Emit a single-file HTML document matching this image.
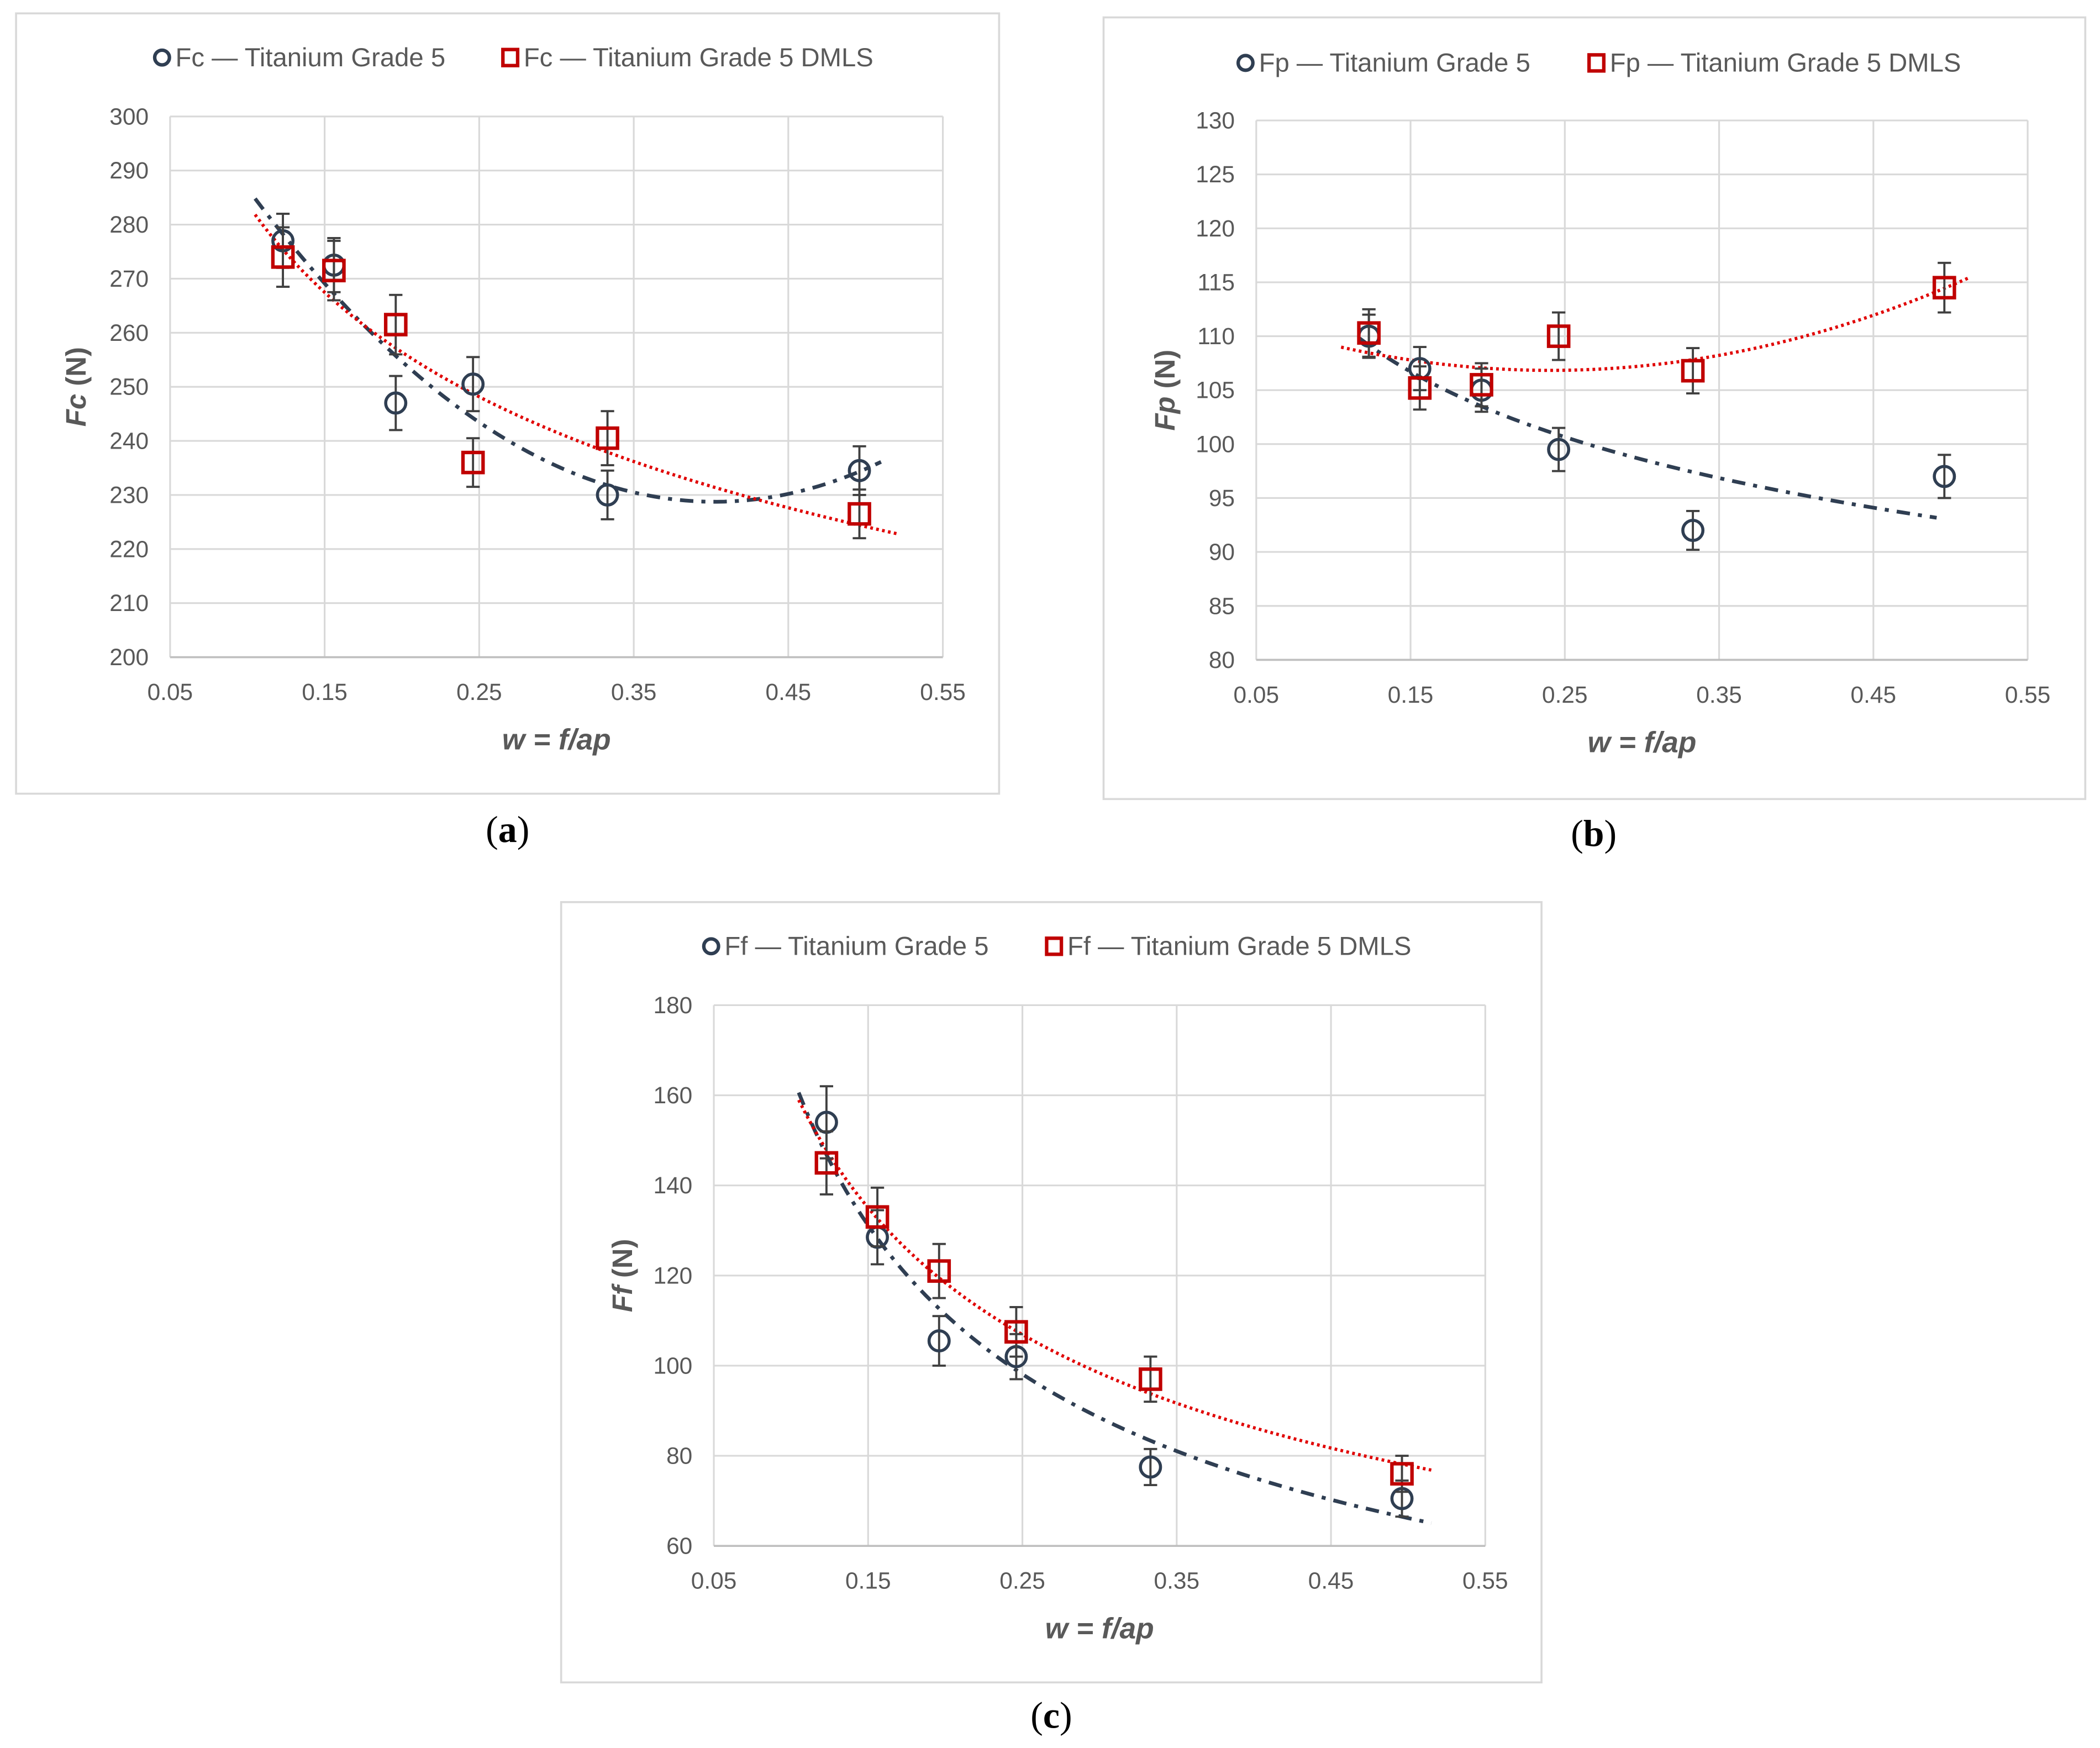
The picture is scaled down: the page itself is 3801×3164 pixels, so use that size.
<!DOCTYPE html>
<html><head><meta charset="utf-8"><style>
html,body{margin:0;padding:0;background:#fff;}
svg{display:block;}
text{font-family:"Liberation Sans",sans-serif;}
</style></head><body>
<svg id="fig" width="3801" height="3164" viewBox="0 0 1568 1306" preserveAspectRatio="none" xmlns="http://www.w3.org/2000/svg"></svg>
<script>
// ---- shared x data ----
const xVals = [0.123, 0.156, 0.196, 0.246, 0.333, 0.496];
const xTicks = ["0.05","0.15","0.25","0.35","0.45","0.55"];
// ---- chart a ----
const fcTi = [277, 272.5, 247, 250.5, 230, 234.5];
const fcTiErr = [5, 5, 5, 5, 4.5, 4.5];
const fcDm = [274, 271.5, 261.5, 236, 240.5, 226.5];
const fcDmErr = [5.5, 5.5, 5.5, 4.5, 5, 4.5];
const fcTicks = ["200","210","220","230","240","250","260","270","280","290","300"];
// ---- chart b ----
const fpTi = [110, 107, 105, 99.5, 92, 97];
const fpTiErr = [2, 2, 2, 2, 1.8, 2];
const fpDm = [110.3, 105.2, 105.5, 110, 106.8, 114.5];
const fpDmErr = [2.2, 2, 2, 2.2, 2.1, 2.3];
const fpTicks = ["80","85","90","95","100","105","110","115","120","125","130"];
// ---- chart c ----
const ffTi = [154, 128.5, 105.5, 102, 77.5, 70.5];
const ffTiErr = [8, 6, 5.5, 5, 4, 4];
const ffDm = [145, 133, 121, 107.5, 97, 76];
const ffDmErr = [7, 6.5, 6, 5.5, 5, 4];
const ffTicks = ["60","80","100","120","140","160","180"];

const NS="http://www.w3.org/2000/svg";
const svg=document.getElementById('fig');
function el(tag,attrs,parent){const e=document.createElementNS(NS,tag);for(const k in attrs)e.setAttribute(k,attrs[k]);(parent||svg).appendChild(e);return e;}

function polyfit2(xs,ys){let S=[0,0,0,0,0],T=[0,0,0];for(let i=0;i<xs.length;i++){let p=1;for(let k=0;k<5;k++){S[k]+=p;if(k<3)T[k]+=p*ys[i];p*=xs[i];}}
 const A=[[S[0],S[1],S[2],T[0]],[S[1],S[2],S[3],T[1]],[S[2],S[3],S[4],T[2]]];
 for(let i=0;i<3;i++){for(let j=i+1;j<3;j++){const f=A[j][i]/A[i][i];for(let k=i;k<4;k++)A[j][k]-=f*A[i][k];}}
 const c=[0,0,0];for(let i=2;i>=0;i--){let s=A[i][3];for(let k=i+1;k<3;k++)s-=A[i][k]*c[k];c[i]=s/A[i][i];}
 return x=>c[0]+c[1]*x+c[2]*x*x;}
function powfit(xs,ys){const n=xs.length;let sx=0,sy=0,sxx=0,sxy=0;for(let i=0;i<n;i++){const lx=Math.log(xs[i]),ly=Math.log(ys[i]);sx+=lx;sy+=ly;sxx+=lx*lx;sxy+=lx*ly;}
 const b=(n*sxy-sx*sy)/(n*sxx-sx*sx),a=Math.exp((sy-b*sx)/n);return x=>a*Math.pow(x,b);}

function chart(c){
 const g=el('g',{});
 
 
 const fr=el('rect',{x:c.fx,y:c.fy,width:c.fw,height:c.fh,fill:'#fff',stroke:'#d9d9d9','stroke-width':1.5},g);
 
 
 const X=v=>c.px0+(v-0.05)/0.5*(c.px1-c.px0);
 const ymin=+c.ticks[0],ymax=+c.ticks[c.ticks.length-1];
 const Y=v=>c.py1-(v-ymin)/(ymax-ymin)*(c.py1-c.py0);
 c.ticks.forEach(t=>{const y=Y(+t);
  const l=el('line',{x1:c.px0,x2:c.px1,y1:y,y2:y,stroke:'#d9d9d9','stroke-width':1.3},g);
  
  
  const tx=el('text',{x:c.px0-16,y:y+6,'text-anchor':'end','font-size':17.5,fill:'#595959'},g);tx.textContent=t;
  
  });
 xTicks.forEach(t=>{const x=X(+t);
  const l=el('line',{x1:x,x2:x,y1:c.py0,y2:c.py1,stroke:'#d9d9d9','stroke-width':1.3},g);
  
  
  const tx=el('text',{x:x,y:c.py1+32,'text-anchor':'middle','font-size':17.5,fill:'#595959'},g);tx.textContent=t;
  
  });
 const ax=el('line',{x1:c.px0,x2:c.px1,y1:c.py1,y2:c.py1,stroke:'#bfbfbf','stroke-width':1.5},g);
 
 
 function trend(f,x0,x1,col,dash,w,name){let d='';for(let i=0;i<=80;i++){const x=x0+(x1-x0)*i/80;d+=(i?'L':'M')+X(x).toFixed(2)+','+Y(f(x)).toFixed(2);}
  const p=el('path',{d:d,fill:'none',stroke:col,'stroke-width':w,'stroke-dasharray':dash},g);
  
  }
 trend(c.tiFit(xVals,c.ti),c.tiR[0],c.tiR[1],'#2f3e52','10,6,3,6',2.8,'trendline-titanium');
 trend(c.dmFit(xVals,c.dm),c.dmR[0],c.dmR[1],'#e00000','2,2.5',2.4,'trendline-dmls');
 function series(vals,err,shape,col,name){vals.forEach((v,i)=>{const x=X(xVals[i]);
  const eb=el('path',{d:`M${x},${Y(v+err[i])}V${Y(v-err[i])}M${x-5},${Y(v+err[i])}h10M${x-5},${Y(v-err[i])}h10`,stroke:'#404040','stroke-width':1.6,fill:'none'},g);
  
  
  let m;
  if(shape==='c')m=el('circle',{cx:x,cy:Y(v),r:7.5,fill:'none',stroke:col,'stroke-width':2.3},g);
  else m=el('rect',{x:x-7.5,y:Y(v)-7.5,width:15,height:15,fill:'none',stroke:col,'stroke-width':2.6},g);
  
  });}
 series(c.ti,c.tiE,'c','#2f3e52','titanium');
 series(c.dm,c.dmE,'s','#c00000','dmls');
 const lc=el('circle',{cx:c.lx1,cy:c.ly,r:5.5,fill:'none',stroke:'#2f3e52','stroke-width':2.6},g);
 
 
 const lt1=el('text',{x:c.lx1+10,y:c.ly+6.5,'font-size':19.5,fill:'#595959'},g);lt1.textContent=c.sym+' — Titanium Grade 5';
 
 
 const ls=el('rect',{x:c.lx2-5.5,y:c.ly-6,width:11,height:12,fill:'none',stroke:'#c00000','stroke-width':2.6},g);
 
 
 const lt2=el('text',{x:c.lx2+10,y:c.ly+6.5,'font-size':19.5,fill:'#595959'},g);lt2.textContent=c.sym+' — Titanium Grade 5 DMLS';
 
 
 const yt=el('text',{x:0,y:0,transform:`translate(${c.ytx},${(c.py0+c.py1)/2}) rotate(-90)`,'text-anchor':'middle','font-size':21,'font-weight':'bold',fill:'#595959'},g);
 yt.innerHTML=`<tspan font-style="italic">${c.sym}</tspan> (N)`;
 
 
 const xt=el('text',{x:(c.px0+c.px1)/2,y:c.py1+69,'text-anchor':'middle','font-size':22,'font-weight':'bold','font-style':'italic',fill:'#595959'},g);
 xt.textContent='w = f/ap';
 
 
 const cap=el('text',{x:c.capx,y:c.capy,'text-anchor':'middle',style:'font-family:"Liberation Serif",serif;font-size:28px;fill:#000'},g);
 cap.innerHTML='(<tspan font-weight="bold">'+c.id+'</tspan>)';
 
 
}
chart({id:'a',sym:'Fc',fx:12,fy:10,fw:734,fh:583,px0:127,px1:704,py0:87,py1:491,ticks:fcTicks,
 ti:fcTi,tiE:fcTiErr,dm:fcDm,dmE:fcDmErr,tiFit:polyfit2,dmFit:powfit,tiR:[0.105,0.51],dmR:[0.105,0.52],
 lx1:121,lx2:381,ly:43,ytx:64,capx:379,capy:629});
chart({id:'b',sym:'Fp',fx:824,fy:13,fw:733,fh:584,px0:938,px1:1514,py0:90,py1:493,ticks:fpTicks,
 ti:fpTi,tiE:fpTiErr,dm:fpDm,dmE:fpDmErr,tiFit:powfit,dmFit:polyfit2,tiR:[0.117,0.491],dmR:[0.105,0.512],
 lx1:930,lx2:1192,ly:47,ytx:877,capx:1190,capy:632});
chart({id:'c',sym:'Ff',fx:419,fy:674,fw:732,fh:583,px0:533,px1:1109,py0:751,py1:1155,ticks:ffTicks,
 ti:ffTi,tiE:ffTiErr,dm:ffDm,dmE:ffDmErr,tiFit:powfit,dmFit:powfit,tiR:[0.105,0.515],dmR:[0.105,0.515],
 lx1:531,lx2:787,ly:707,ytx:472,capx:785,capy:1291});
</script>
</body></html>
